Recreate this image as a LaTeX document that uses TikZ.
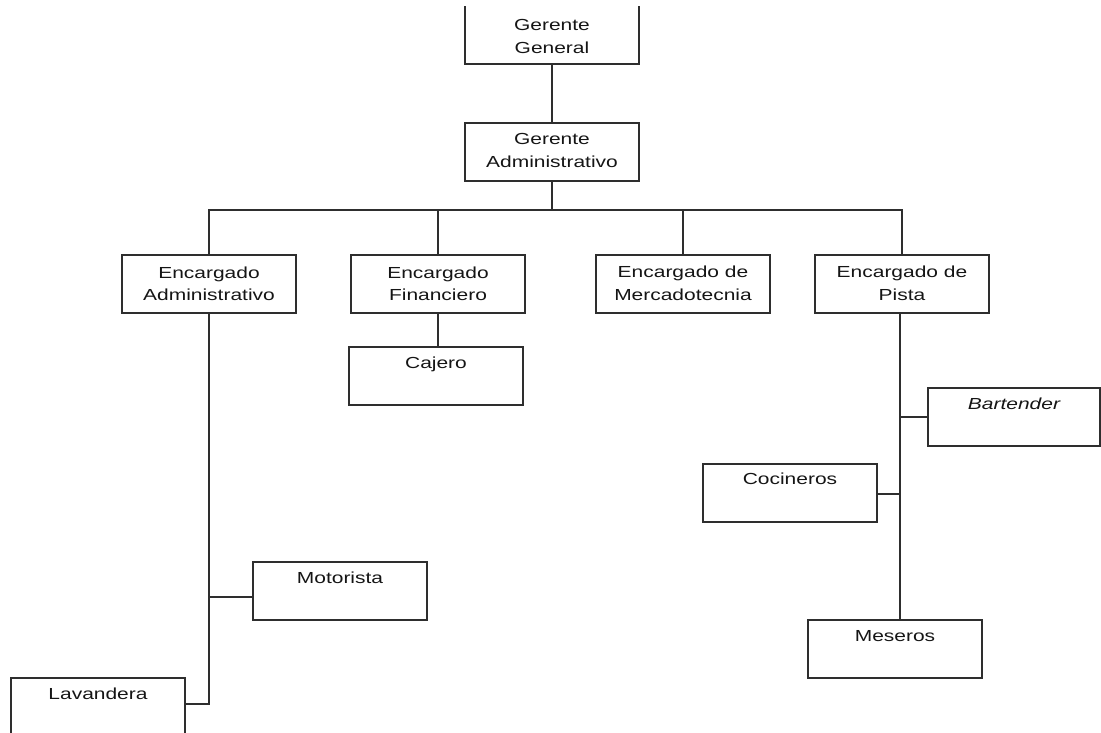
\documentclass[tikz,border=0pt]{standalone}
\usepackage{fontspec}
\setmainfont{Liberation Sans}[FakeStretch=1.31]
\usetikzlibrary{calc}
\definecolor{linec}{HTML}{2E2E2E}
\definecolor{textc}{HTML}{151515}
\begin{document}
\begin{tikzpicture}[x=1pt,y=-1pt,
  box/.style={draw=linec, line width=2pt, minimum width=174pt, minimum height=58pt, inner sep=0pt},
  txt/.style={font=\fontsize{16}{22.5}\selectfont, text=textc, inner sep=0pt, anchor=north, align=center},
  conn/.style={draw=linec, line width=2pt}]
\useasboundingbox (0,0) rectangle (1101,733);
\clip (0,7) rectangle (1101,733);
% boxes
\node[box, minimum height=60pt] (gg) at (552,34) {};
\node[box] (ga) at (552,152) {};
\node[box] (ea) at (209,284) {};
\node[box] (ef) at (438,284) {};
\node[box] (em) at (683,284) {};
\node[box] (ep) at (902,284) {};
\node[box] (caj) at (436,376) {};
\node[box, minimum width=172pt] (bar) at (1014,417) {};
\node[box] (coc) at (790,493) {};
\node[box] (mes) at (895,649) {};
\node[box] (mot) at (340,591) {};
\node[box] (lav) at (98,707) {};
% texts
\node[txt] (ggt) at ($(gg.north)+(0,16.5)$) {Gerente\\General};
\node[txt] (gat) at ($(ga.north)+(0,11.5)$) {Gerente\\Administrativo};
\node[txt] (eat) at ($(ea.north)+(0,12.5)$) {Encargado\\Administrativo};
\node[txt] (eft) at ($(ef.north)+(0,12.5)$) {Encargado\\Financiero};
\node[txt] (emt) at ($(em.north)+(0,12)$) {Encargado de\\Mercadotecnia};
\node[txt] (ept) at ($(ep.north)+(0,12)$) {Encargado de\\Pista};
\node[txt] (cajt) at ($(caj.north)+(0,10.5)$) {Cajero};
\node[txt] (bart) at ($(bar.north)+(0,10.5)$) {\itshape Bartender};
\node[txt] (coct) at ($(coc.north)+(0,10)$) {Cocineros};
\node[txt] (mest) at ($(mes.north)+(0,11.5)$) {Meseros};
\node[txt] (mott) at ($(mot.north)+(0,11)$) {Motorista};
\node[txt] (lavt) at ($(lav.north)+(0,11)$) {Lavandera};
% connectors
\coordinate (bus) at (0,210);
\draw[conn] (gg.south) -- (ga.north);
\draw[conn] (ga.south) -- (ga.south |- bus);
\draw[conn] (ea.north) -- (ea.north |- bus) -- (ep.north |- bus) -- (ep.north);
\draw[conn] (ef.north) -- (ef.north |- bus);
\draw[conn] (em.north) -- (em.north |- bus);
\draw[conn] (ef.south) -- (caj.north -| ef.south);
\coordinate (pt) at ([xshift=-2pt]ep.south);
\draw[conn] (pt) -- (pt |- mes.north);
\draw[conn] (bar.west) -- (bar.west -| pt);
\coordinate (cocc) at ([yshift=-1pt]coc.east);
\draw[conn] (cocc) -- (cocc -| pt);
\coordinate (lavc) at ([yshift=3pt]lav.east);
\coordinate (motc) at ([yshift=-6pt]mot.west);
\draw[conn] (ea.south) -- (ea.south |- lavc) -- (lavc);
\draw[conn] (motc) -- (motc -| ea.south);
\end{tikzpicture}
\end{document}
